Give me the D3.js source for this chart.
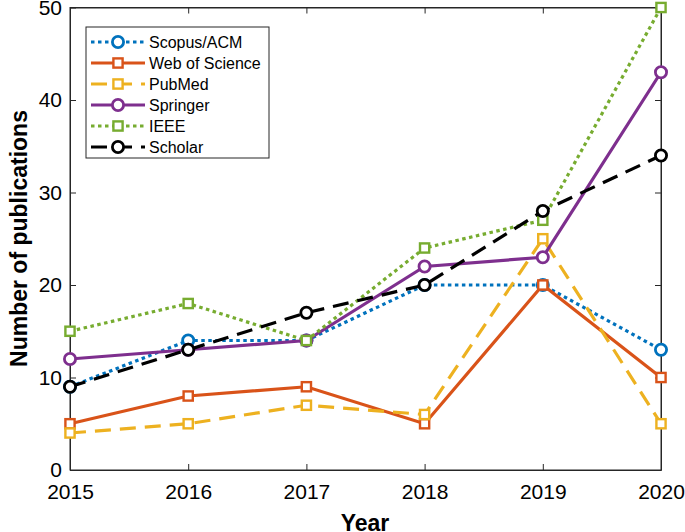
<!DOCTYPE html>
<html><head><meta charset="utf-8">
<script src="https://cdn.jsdelivr.net/npm/d3@7"></script>
<style>body{margin:0;background:#fff}svg{display:block}text{font-family:"Liberation Sans",Arial,sans-serif}</style>
</head><body>
<svg id="c" width="685" height="532"></svg>
<script>
const years = [2015, 2016, 2017, 2018, 2019, 2020];
const scopus = [9, 14, 14, 20, 20, 13];
const wos = [5, 8, 9, 5, 20, 10];
const pubmed = [4, 5, 7, 6, 25, 5];
const springer = [12, 13, 14, 22, 23, 43];
const ieee = [15, 18, 14, 24, 27, 50];
const scholar = [9, 13, 17, 20, 28, 34];
const yTicks = [0, 10, 20, 30, 40, 50];

const series = [
  {name: "Scopus/ACM", values: scopus, color: "#0072BD", dash: "3.5,3.5", marker: "circle"},
  {name: "Web of Science", values: wos, color: "#D95319", dash: null, marker: "square"},
  {name: "PubMed", values: pubmed, color: "#EDB120", dash: "16,9", marker: "square"},
  {name: "Springer", values: springer, color: "#7E2F8E", dash: null, marker: "circle"},
  {name: "IEEE", values: ieee, color: "#77AC30", dash: "3.5,3.5", marker: "square"},
  {name: "Scholar", values: scholar, color: "#000000", dash: "16,9", marker: "circle"}
];

const svg = d3.select("#c");
const L = 70, R = 661, T = 7.5, B = 470;
const x = d3.scaleLinear().domain([2015, 2020]).range([L, R]);
const y = d3.scaleLinear().domain([0, 50]).range([B, T]);
const axCol = "#262626";

svg.append("rect").attr("x", L).attr("y", T).attr("width", R - L).attr("height", B - T)
  .attr("fill", "none").attr("stroke", axCol).attr("stroke-width", 1);

const gx = svg.append("g").attr("transform", `translate(0,${B})`)
  .call(d3.axisBottom(x).tickValues(years).tickFormat(d3.format("d")).tickSizeInner(-6).tickSizeOuter(0).tickPadding(14));
const gy = svg.append("g").attr("transform", `translate(${L},0)`)
  .call(d3.axisLeft(y).tickValues(yTicks).tickSizeInner(-6).tickSizeOuter(0).tickPadding(8));
const gx2 = svg.append("g").attr("transform", `translate(0,${T})`)
  .call(d3.axisTop(x).tickValues(years).tickFormat("").tickSizeInner(-6).tickSizeOuter(0));
const gy2 = svg.append("g").attr("transform", `translate(${R},0)`)
  .call(d3.axisRight(y).tickValues(yTicks).tickFormat("").tickSizeInner(-6).tickSizeOuter(0));
[gx, gy, gx2, gy2].forEach(g => {
  g.select(".domain").attr("stroke", axCol);
  g.selectAll(".tick line").attr("stroke", axCol);
  g.selectAll(".tick text").attr("fill", "#000").style("font-size", "21px").style("font-family", '"Liberation Sans",Arial,sans-serif');
});

svg.append("text").attr("x", 365).attr("y", 531).attr("text-anchor", "middle")
  .style("font-size", "23px").style("font-weight", "bold").text("Year");
svg.append("text").attr("transform", `translate(27,238.5) rotate(-90)`).attr("text-anchor", "middle")
  .style("font-size", "23px").style("font-weight", "bold").text("Number of publications");

const line = d3.line().x((d, i) => x(years[i])).y(d => y(d));

function drawMarker(g, type, cx, cy, color) {
  if (type === "circle") {
    g.append("circle").attr("cx", cx).attr("cy", cy).attr("r", 5.6)
      .attr("fill", "#fff").attr("stroke", color).attr("stroke-width", 2.8);
  } else {
    g.append("rect").attr("x", cx - 4.6).attr("y", cy - 4.6).attr("width", 9.2).attr("height", 9.2)
      .attr("fill", "#fff").attr("stroke", color).attr("stroke-width", 2.4);
  }
}

series.forEach(s => {
  const g = svg.append("g");
  g.append("path").attr("d", line(s.values)).attr("fill", "none").attr("stroke", s.color)
    .attr("stroke-width", 3.2).attr("stroke-dasharray", s.dash);
  s.values.forEach((v, i) => drawMarker(g, s.marker, x(years[i]), y(v), s.color));
});

const lg = svg.append("g");
lg.append("rect").attr("x", 86).attr("y", 27).attr("width", 183).attr("height", 131)
  .attr("fill", "#fff").attr("stroke", axCol).attr("stroke-width", 1);
series.forEach((s, i) => {
  const cy = 42 + i * 21;
  lg.append("line").attr("x1", 91).attr("x2", 145).attr("y1", cy).attr("y2", cy)
    .attr("stroke", s.color).attr("stroke-width", 3.2).attr("stroke-dasharray", s.dash);
  drawMarker(lg, s.marker, 118, cy, s.color);
  lg.append("text").attr("x", 149).attr("y", cy).attr("dy", "0.36em")
    .style("font-size", "16px").text(s.name);
});
</script>
</body></html>
